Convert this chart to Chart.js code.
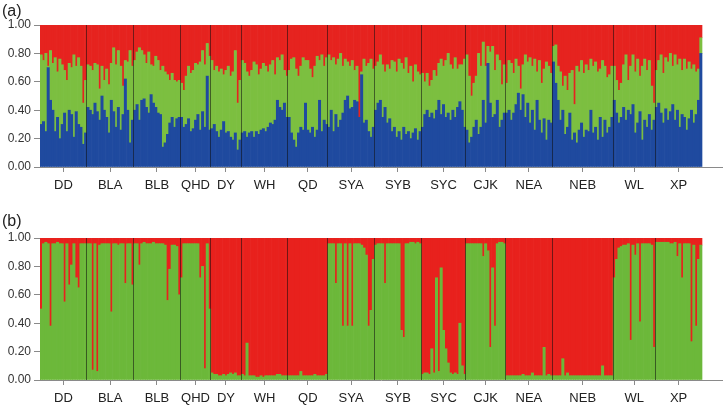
<!DOCTYPE html>
<html>
<head>
<meta charset="utf-8">
<script src="https://cdn.jsdelivr.net/npm/chart.js@4.4.1/dist/chart.umd.min.js"></script>
<style>
  html, body { margin: 0; padding: 0; background: #ffffff; }
  body { width: 724px; height: 410px; position: relative; overflow: hidden; font-family: "Liberation Sans", Arial, sans-serif; }
  .panel { position: absolute; left: 0; width: 724px; height: 205px; }
  .plabel { position: absolute; left: 2px; font-size: 16px; color: #222; font-family: "Liberation Sans", Arial, sans-serif; }
</style>
</head>
<body>
<div class="panel" style="top:0"><canvas id="ca" width="724" height="205"></canvas></div>
<div class="panel" style="top:205px"><canvas id="cb" width="724" height="205"></canvas></div>
<div class="plabel" style="top:2px">(a)</div>
<div class="plabel" style="top:212px">(b)</div>
<script>
// ---------------- DATA ----------------
const popNames = ['DD','BLA','BLB','QHD','DY','WH','QD','SYA','SYB','SYC','CJK','NEA','NEB','WL','XP'];
const yTicks = [0, 0.2, 0.4, 0.6, 0.8, 1.0];

// Panel (a), K=3: membership of each individual in the blue cluster (one array per population)
const blueA = [
  [0.30,0.32,0.25,0.70,0.47,0.40,0.25,0.35,0.20,0.30,0.38,0.25,0.40,0.37,0.21,0.39,0.30,0.28,0.16,0.24],
  [0.42,0.40,0.37,0.45,0.39,0.33,0.50,0.40,0.35,0.24,0.47,0.39,0.28,0.42,0.26,0.37,0.62,0.40,0.17,0.33],
  [0.40,0.44,0.33,0.47,0.48,0.42,0.38,0.51,0.45,0.42,0.38,0.37,0.14,0.17,0.23,0.31,0.35,0.28,0.34,0.35],
  [0.35,0.28,0.30,0.34,0.25,0.27,0.33,0.37,0.26,0.39,0.28,0.64,0.26],
  [0.27,0.30,0.25,0.21,0.26,0.32,0.24,0.25,0.21,0.19,0.24,0.12,0.19],
  [0.24,0.25,0.21,0.24,0.25,0.21,0.25,0.23,0.26,0.27,0.25,0.28,0.31,0.30,0.33,0.47,0.42,0.40,0.45,0.35],
  [0.35,0.24,0.19,0.14,0.24,0.28,0.26,0.45,0.26,0.24,0.28,0.21,0.26,0.47,0.25,0.33,0.30],
  [0.28,0.40,0.25,0.37,0.28,0.33,0.38,0.47,0.50,0.41,0.42,0.47,0.46,0.35,0.65,0.31,0.33,0.25,0.21,0.28],
  [0.40,0.45,0.47,0.35,0.42,0.31,0.34,0.25,0.28,0.21,0.25,0.19,0.28,0.23,0.25,0.20,0.24,0.27,0.19,0.25],
  [0.28,0.37,0.40,0.35,0.38,0.34,0.40,0.47,0.37,0.44,0.35,0.38,0.33,0.40,0.35,0.42,0.46,0.40,0.28],
  [0.26,0.17,0.21,0.28,0.33,0.23,0.28,0.47,0.31,0.73,0.45,0.35,0.37,0.47,0.28,0.33,0.38],
  [0.38,0.40,0.33,0.38,0.44,0.52,0.40,0.51,0.35,0.45,0.31,0.40,0.26,0.47,0.33,0.24,0.34,0.19,0.33,0.31],
  [0.74,0.59,0.47,0.33,0.40,0.23,0.28,0.38,0.19,0.24,0.17,0.26,0.31,0.21,0.26,0.25,0.40,0.24,0.28,0.19,0.35,0.21,0.33,0.24,0.28,0.35],
  [0.47,0.38,0.31,0.35,0.42,0.33,0.40,0.37,0.44,0.24,0.31,0.39,0.19,0.33,0.28,0.37,0.26,0.33],
  [0.42,0.45,0.38,0.31,0.41,0.33,0.39,0.44,0.33,0.40,0.28,0.37,0.35,0.26,0.34,0.40,0.31,0.37,0.47,0.80]
];
// Panel (a): membership in the red cluster
const redA = [
  [0.21,0.25,0.20,0.29,0.18,0.27,0.23,0.33,0.24,0.28,0.32,0.39,0.27,0.30,0.21,0.29,0.23,0.29,0.55,0.39],
  [0.28,0.29,0.32,0.27,0.28,0.45,0.29,0.39,0.31,0.42,0.27,0.16,0.28,0.18,0.29,0.43,0.25,0.26,0.18,0.29],
  [0.25,0.19,0.16,0.18,0.21,0.27,0.19,0.28,0.29,0.22,0.25,0.32,0.29,0.33,0.35,0.39,0.34,0.39,0.40,0.39],
  [0.41,0.46,0.36,0.29,0.34,0.32,0.27,0.28,0.26,0.18,0.28,0.13,0.22],
  [0.25,0.32,0.29,0.33,0.31,0.35,0.32,0.29,0.36,0.33,0.18,0.55,0.39],
  [0.25,0.27,0.33,0.36,0.32,0.26,0.28,0.35,0.31,0.27,0.29,0.33,0.28,0.25,0.35,0.23,0.25,0.21,0.32,0.36],
  [0.32,0.24,0.23,0.31,0.36,0.29,0.23,0.25,0.25,0.31,0.37,0.29,0.22,0.25,0.21,0.29,0.23],
  [0.21,0.25,0.23,0.28,0.24,0.20,0.29,0.24,0.26,0.29,0.25,0.32,0.29,0.65,0.33,0.24,0.29,0.27,0.24,0.31],
  [0.29,0.26,0.21,0.28,0.33,0.28,0.31,0.25,0.26,0.33,0.24,0.27,0.31,0.23,0.34,0.29,0.40,0.28,0.33,0.35],
  [0.34,0.40,0.34,0.43,0.39,0.32,0.36,0.27,0.24,0.29,0.25,0.20,0.28,0.31,0.23,0.31,0.28,0.28,0.24],
  [0.21,0.36,0.50,0.41,0.36,0.20,0.29,0.12,0.29,0.15,0.19,0.15,0.32,0.21,0.25,0.42,0.28],
  [0.41,0.25,0.27,0.34,0.24,0.29,0.45,0.28,0.21,0.26,0.23,0.29,0.24,0.33,0.25,0.41,0.31,0.26,0.29,0.34],
  [0.15,0.14,0.29,0.33,0.43,0.36,0.46,0.34,0.32,0.56,0.29,0.33,0.25,0.34,0.28,0.32,0.24,0.29,0.26,0.33,0.31,0.25,0.29,0.37,0.35,0.29],
  [0.29,0.39,0.46,0.41,0.28,0.21,0.39,0.29,0.21,0.33,0.24,0.36,0.29,0.24,0.32,0.25,0.43,0.55],
  [0.32,0.25,0.21,0.34,0.23,0.26,0.20,0.29,0.21,0.28,0.24,0.32,0.24,0.31,0.26,0.31,0.28,0.33,0.31,0.09]
];
// Panel (b), K=2: membership in the green cluster
const greenB = [
  [0.50,0.96,0.97,0.96,0.38,0.96,0.96,0.97,0.96,0.96,0.55,0.96,0.67,0.81,0.96,0.72,0.65,0.96,0.96,0.96],
  [0.96,0.96,0.07,0.96,0.06,0.95,0.96,0.96,0.96,0.96,0.48,0.96,0.96,0.95,0.96,0.96,0.68,0.96,0.96,0.67],
  [0.96,0.96,0.81,0.96,0.97,0.96,0.96,0.96,0.97,0.96,0.96,0.96,0.96,0.95,0.56,0.78,0.95,0.95,0.94,0.60],
  [0.72,0.96,0.96,0.96,0.96,0.96,0.96,0.96,0.72,0.80,0.08,0.96,0.50],
  [0.05,0.04,0.04,0.03,0.03,0.04,0.03,0.04,0.05,0.04,0.05,0.03,0.03],
  [0.04,0.03,0.26,0.03,0.03,0.03,0.02,0.02,0.03,0.02,0.03,0.03,0.03,0.03,0.03,0.04,0.04,0.03,0.03,0.03],
  [0.03,0.03,0.03,0.03,0.03,0.06,0.03,0.03,0.03,0.03,0.03,0.04,0.03,0.03,0.03,0.03,0.04],
  [0.96,0.96,0.96,0.68,0.96,0.96,0.38,0.96,0.38,0.96,0.38,0.96,0.96,0.96,0.95,0.93,0.88,0.38,0.49,0.85],
  [0.95,0.96,0.96,0.96,0.68,0.96,0.96,0.96,0.96,0.96,0.96,0.35,0.30,0.96,0.96,0.97,0.97,0.96,0.97,0.96],
  [0.04,0.05,0.05,0.04,0.22,0.05,0.72,0.06,0.79,0.35,0.22,0.12,0.05,0.04,0.05,0.04,0.40,0.10,0.04],
  [0.96,0.96,0.96,0.96,0.96,0.96,0.96,0.87,0.96,0.91,0.23,0.79,0.38,0.96,0.97,0.97,0.96],
  [0.03,0.03,0.03,0.03,0.03,0.03,0.03,0.04,0.03,0.03,0.03,0.05,0.03,0.03,0.03,0.03,0.23,0.03,0.04,0.03],
  [0.03,0.03,0.03,0.03,0.15,0.03,0.05,0.03,0.03,0.03,0.03,0.03,0.03,0.03,0.03,0.03,0.03,0.03,0.03,0.03,0.03,0.10,0.03,0.03,0.03,0.03],
  [0.72,0.85,0.93,0.94,0.95,0.95,0.96,0.28,0.95,0.88,0.96,0.41,0.96,0.96,0.96,0.96,0.95,0.23],
  [0.97,0.97,0.97,0.97,0.97,0.97,0.96,0.96,0.97,0.87,0.96,0.72,0.96,0.96,0.96,0.27,0.95,0.38,0.85,0.95]
];

// ---------------- BUILD ----------------
const popSizes = blueA.map(a => a.length);
const starts = [];
let acc = 0;
popSizes.forEach(n => { starts.push(acc); acc += n; });
const N = acc;
const centers = popSizes.map((n, i) => starts[i] + n / 2);
const bounds = starts.slice(1);
const xMax = N * 1.0302; // axis line runs a little past the last individual

const toXY = vals => vals.map((v, i) => ({ x: i + 0.5, y: v }));
const bA = blueA.flat(), rA = redA.flat(), gB = greenB.flat();
const gA = bA.map((b, i) => +(1 - b - rA[i]).toFixed(3));
const rB = gB.map(g => +(1 - g).toFixed(3));

const FONT = "'Liberation Sans', Arial, sans-serif";
const axisGray = '#8a8a8a';

function noPad(s) { s.paddingLeft = 0; s.paddingRight = 0; s.paddingTop = 0; s.paddingBottom = 0; }

function makeOptions(padTop, xHeight) {
  return {
    responsive: false,
    animation: false,
    devicePixelRatio: 1,
    layout: { padding: { top: padTop, right: 2, left: 0, bottom: 0 } },
    plugins: { legend: { display: false }, tooltip: { enabled: false } },
    datasets: { bar: { barPercentage: 1, categoryPercentage: 1, borderWidth: 0, grouped: false } },
    scales: {
      x: {
        type: 'linear', min: 0, max: xMax, stacked: true, position: 'bottom', offset: false,
        afterBuildTicks: s => { s.ticks = centers.map(v => ({ value: v })); },
        afterFit: s => { s.height = xHeight; noPad(s); },
        ticks: {
          autoSkip: false, maxRotation: 0, padding: 6, color: '#222',
          font: { family: FONT, size: 13 },
          callback: (v, i) => popNames[i]
        },
        grid: { offset: false, drawOnChartArea: false, drawTicks: true, tickLength: 5, tickColor: axisGray, color: axisGray },
        border: { display: true, color: axisGray, width: 1 }
      },
      xb: {
        type: 'linear', min: 0, max: xMax, position: 'bottom', offset: false,
        afterBuildTicks: s => { s.ticks = bounds.map(v => ({ value: v })); },
        afterFit: s => { s.height = 0; noPad(s); },
        ticks: { display: false },
        grid: { z: 1, offset: false, drawOnChartArea: true, drawTicks: false, color: 'rgba(15,15,15,0.55)', lineWidth: 1 },
        border: { display: false }
      },
      y: {
        min: 0, max: 1, stacked: true,
        afterBuildTicks: s => { s.ticks = yTicks.map(v => ({ value: v })); },
        afterFit: s => { s.width = 40; noPad(s); },
        ticks: {
          padding: 3, color: '#333', font: { family: FONT, size: 12 },
          callback: v => Number(v).toFixed(2)
        },
        grid: { drawOnChartArea: false, drawTicks: true, tickLength: 6, tickColor: axisGray },
        border: { display: true, color: axisGray, width: 1 }
      }
    }
  };
}

new Chart(document.getElementById('ca'), {
  type: 'bar',
  data: {
    datasets: [
      { label: 'Cluster 1', data: toXY(bA), backgroundColor: '#1f4a9f' },
      { label: 'Cluster 2', data: toXY(gA), backgroundColor: '#7cbf40' },
      { label: 'Cluster 3', data: toXY(rA), backgroundColor: '#e6231f' }
    ]
  },
  options: makeOptions(25, 38)
});

new Chart(document.getElementById('cb'), {
  type: 'bar',
  data: {
    datasets: [
      { label: 'Cluster 1', data: toXY(gB), backgroundColor: '#6cb83a' },
      { label: 'Cluster 2', data: toXY(rB), backgroundColor: '#e8211d' }
    ]
  },
  options: makeOptions(33, 30)
});
</script>
</body>
</html>
